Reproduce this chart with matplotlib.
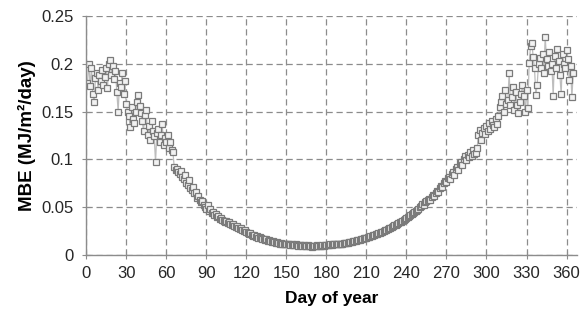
import numpy as np
import matplotlib
matplotlib.use("Agg")
import matplotlib.pyplot as plt

plt.rcParams['font.family'] = ['Liberation Sans', 'DejaVu Sans']

# daily mean bias error, day 1 .. 365
mbe_winter = [
    0.180, 0.200, 0.177, 0.195, 0.168, 0.160, 0.185, 0.190, 0.172, 0.188,
    0.182, 0.193, 0.178, 0.186, 0.195, 0.175, 0.200, 0.204, 0.188, 0.198,
    0.184, 0.192, 0.170, 0.150, 0.180, 0.176, 0.190, 0.168, 0.182, 0.158,
    0.150, 0.145, 0.134, 0.155, 0.142, 0.138, 0.150, 0.160, 0.167, 0.156,
    0.148, 0.140, 0.130, 0.146, 0.152, 0.125, 0.135, 0.120, 0.140, 0.130,
    0.124, 0.097, 0.128, 0.132, 0.118, 0.125, 0.137, 0.115, 0.122, 0.118,
    0.125, 0.112, 0.118, 0.110, 0.108, 0.092, 0.089, 0.090, 0.087, 0.085,
    0.088, 0.082, 0.079, 0.084, 0.075, 0.073, 0.078, 0.070, 0.068, 0.071,
    0.065, 0.066, 0.060, 0.062, 0.058, 0.055, 0.056, 0.052, 0.050, 0.048,
]
mbe_spring = [
    0.052, 0.046, 0.048, 0.044, 0.045, 0.042, 0.043, 0.040, 0.041, 0.038,
    0.039, 0.037, 0.036, 0.035, 0.036, 0.033, 0.034, 0.032, 0.031, 0.032,
    0.030, 0.029, 0.030, 0.028, 0.027, 0.028, 0.026, 0.025, 0.026, 0.024,
    0.023, 0.022, 0.023, 0.021, 0.020, 0.021, 0.019, 0.020, 0.018, 0.019,
    0.018, 0.017, 0.017, 0.016, 0.017, 0.015, 0.016, 0.015, 0.014, 0.015,
    0.014, 0.013, 0.014, 0.013, 0.012, 0.013, 0.012, 0.012, 0.011, 0.012,
]
mbe_summer = [
    0.011, 0.011, 0.010, 0.011, 0.010, 0.010, 0.011, 0.010, 0.009, 0.010,
    0.010, 0.009, 0.010, 0.009, 0.009, 0.010, 0.009, 0.009, 0.008, 0.009,
    0.009, 0.009, 0.010, 0.009, 0.009, 0.009, 0.010, 0.009, 0.010, 0.010,
    0.010, 0.010, 0.011, 0.010, 0.011, 0.011, 0.011, 0.012, 0.011, 0.012,
    0.012, 0.012, 0.013, 0.013, 0.013, 0.013, 0.014, 0.014, 0.014, 0.015,
    0.015, 0.015, 0.016, 0.016, 0.016, 0.017, 0.017, 0.018, 0.018, 0.018,
    0.019, 0.019, 0.020, 0.020, 0.021, 0.021, 0.022, 0.022, 0.023, 0.023,
]
mbe_autumn = [
    0.024, 0.024, 0.025, 0.026, 0.026, 0.027, 0.028, 0.028, 0.029, 0.030,
    0.031, 0.031, 0.032, 0.033, 0.034, 0.035, 0.036, 0.037, 0.038, 0.039,
    0.040, 0.041, 0.042, 0.043, 0.044, 0.045, 0.046, 0.047, 0.048, 0.050,
    0.051, 0.053, 0.052, 0.055, 0.056, 0.057, 0.059, 0.058, 0.061, 0.063,
    0.062, 0.065, 0.067, 0.066, 0.070, 0.072, 0.071, 0.075, 0.077, 0.076,
    0.080, 0.082, 0.079, 0.085, 0.087, 0.084, 0.090, 0.092, 0.089, 0.096,
    0.097, 0.094, 0.100, 0.103, 0.099, 0.105, 0.102, 0.108, 0.104, 0.110,
    0.106, 0.107, 0.112, 0.125, 0.131, 0.120, 0.128, 0.133, 0.126, 0.135,
    0.130, 0.138, 0.132, 0.140, 0.136, 0.134, 0.142, 0.137, 0.145, 0.155,
]
mbe_early_winter = [
    0.160, 0.166, 0.150, 0.173, 0.158, 0.162, 0.190, 0.157, 0.165, 0.176,
    0.152, 0.170, 0.157, 0.148, 0.160, 0.168, 0.178, 0.166, 0.150, 0.172,
    0.154, 0.201, 0.218, 0.222, 0.207, 0.195, 0.167, 0.178, 0.200, 0.206,
    0.195, 0.210, 0.190, 0.228, 0.205, 0.198, 0.212, 0.192, 0.200, 0.166,
    0.208, 0.196, 0.215, 0.203, 0.188, 0.168, 0.210, 0.200, 0.195, 0.214,
    0.205, 0.183, 0.198, 0.165, 0.190,
]

mbe = mbe_winter + mbe_spring + mbe_summer + mbe_autumn + mbe_early_winter
days = np.arange(1, len(mbe) + 1)

fig = plt.figure(figsize=(5.86, 3.24), dpi=100)
ax = fig.add_axes([0.147, 0.213, 0.838, 0.738])

ax.plot(days, mbe, color='#bdbdbd', linewidth=0.9, marker='s', markersize=3.7,
        markerfacecolor='#f2f2f2', markeredgecolor='#7a7a7a', markeredgewidth=0.9)

ax.set_xlim(0, 368)
ax.set_ylim(0, 0.25)
ax.set_xticks(range(0, 361, 30))
ax.set_yticks([0, 0.05, 0.1, 0.15, 0.2, 0.25])
ax.set_yticklabels(['0', '0.05', '0.1', '0.15', '0.2', '0.25'])

ax.grid(True, linestyle=(0, (5, 3)), color='#8c8c8c', linewidth=0.9)
ax.set_axisbelow(True)
for s in ['top', 'right']:
    ax.spines[s].set_visible(False)
for s in ['left', 'bottom']:
    ax.spines[s].set_color('#8c8c8c')
    ax.spines[s].set_linewidth(1.0)

ax.tick_params(direction='inout', length=6, color='#8c8c8c', labelsize=12,
               labelcolor='#262626')
ax.tick_params(axis='y', pad=6)
ax.tick_params(axis='x', pad=5)

ax.set_xlabel('Day of year', fontsize=12.5, fontweight='bold', labelpad=7)
ax.set_ylabel('MBE (MJ/m²/day)', fontsize=13.5, fontweight='bold', labelpad=4)

fig.savefig('out.png', dpi=100)
